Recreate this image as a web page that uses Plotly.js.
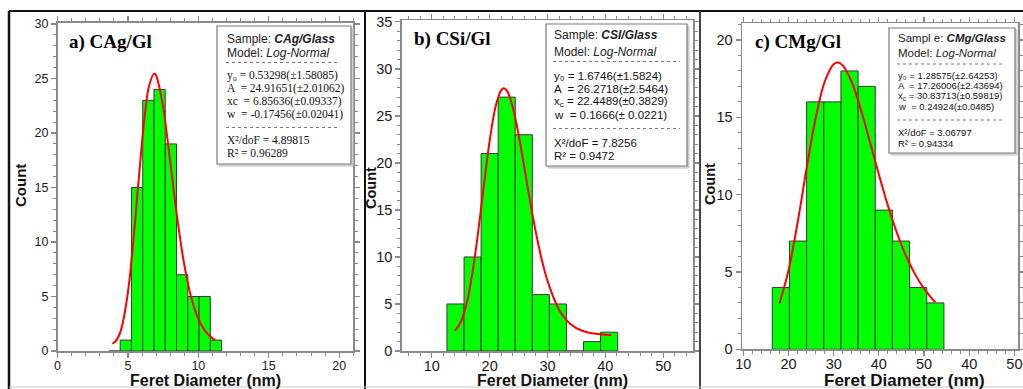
<!DOCTYPE html>
<html>
<head>
<meta charset="utf-8">
<script src="https://cdn.plot.ly/plotly-3.0.1.min.js"></script>
<style>html,body{margin:0;padding:0;background:#fff;}#chart{width:1023px;height:389px;}</style>
</head>
<body>
<div id="chart"></div>
<script>
// ---------- data ----------
// a) CAg/Gl
const agBins   = [4.05, 4.85, 5.65, 6.45, 7.25, 8.05, 8.85, 9.65, 10.45, 11.25];
const agCounts = [0, 1, 15, 23, 24, 19, 7, 5, 5, 1];
const agFitX   = [3.9, 4.2, 4.5, 5, 5.5, 5.75, 6, 6.25, 6.5, 6.86, 7, 7.5, 7.75, 8, 8.25, 8.5, 9, 9.5, 10, 10.5, 11, 11.2];
const agFitY   = [0.67, 1.02, 1.89, 5.39, 11.77, 15.53, 19.14, 22.19, 24.32, 25.45, 25.27, 22.37, 20.01, 17.40, 14.74, 12.21, 7.93, 4.88, 2.94, 1.80, 1.17, 1.01];
// b) CSi/Gl
const siBins   = [14.1, 17.05, 20.0, 22.95, 25.9, 28.85, 31.8, 34.75, 37.7, 40.65];
const siCounts = [5, 10, 21, 27, 23, 6, 5, 0, 1, 2];
const siFitX   = [14, 15, 16, 17, 18, 19, 20, 21, 22, 22.45, 23, 24, 25, 26, 27, 28, 29, 30, 32, 34, 36, 38, 40, 41];
const siFitY   = [2.15, 3.08, 5.00, 8.21, 12.58, 17.59, 22.33, 25.92, 27.75, 27.95, 27.67, 25.91, 23.0, 19.49, 15.89, 12.57, 9.74, 7.46, 4.40, 2.85, 2.15, 1.85, 1.74, 1.71];
// c) CMg/Gl
const mgBins   = [18.3, 22.1, 25.9, 29.7, 33.5, 37.3, 41.1, 44.9, 48.7, 52.5];
const mgCounts = [4, 7, 16, 16, 18, 17, 9, 7, 4, 3];
const mgFitX   = [18, 20, 22, 24, 26, 28, 30, 31, 32, 34, 36, 38, 40, 42, 44, 46, 48, 50, 52, 52.5];
const mgFitY   = [2.96, 5.11, 8.18, 11.69, 14.94, 17.30, 18.44, 18.55, 18.36, 17.27, 15.52, 13.43, 11.30, 9.29, 7.53, 6.05, 4.86, 3.92, 3.20, 3.05];
const mgTickVals = [10, 20, 30, 40, 50, 60, 70];
const mgTickText = ['10', '20', '30', '40', '50', '40', '50'];

// fit-box texts
const boxA = ['Sample: <b><i>CAg/Glass</i></b>', 'Model: <i>Log-Normal</i>',
  'y₀ = 0.53298(±1.58085)', 'A  = 24.91651(±2.01062)', 'xc  = 6.85636(±0.09337)', 'w  = -0.17456(±0.02041)',
  'X²/doF = 4.89815', 'R² = 0.96289'];
const boxB = ['Sample: <b><i>CSI/Glass</i></b>', 'Model: <i>Log-Normal</i>',
  'y₀ = 1.6746(±1.5824)', 'A  = 26.2718(±2.5464)', 'x<sub>c</sub> = 22.4489(±0.3829)', 'w  = 0.1666(± 0.0221)',
  'X²/doF = 7.8256', 'R² = 0.9472'];
const boxC = ['Sampl e: <b><i>CMg/Glass</i></b>', 'Model: <i>Log-Normal</i>',
  'y₀ = 1.28575(±2.64253)', 'A  = 17.26006(±2.43694)', 'x<sub>c</sub> = 30.83713(±0.59819)', 'w  = 0.24924(±0.0485)',
  'X²/doF = 3.06797', 'R² = 0.94334'];

// ---------- layout helpers ----------
const W = 1023, H = 389;
const px = x => x / W;
const py = y => 1 - y / H;

const GREEN = '#00ff00', BAR_LINE = '#3a3a3a', RED = '#ff0000';
const AX = '#8a8a8a';

function barTrace(x, y, w, xa, ya) {
  return {type: 'bar', x: x, y: y, width: w, xaxis: xa, yaxis: ya,
    marker: {color: GREEN, line: {color: BAR_LINE, width: 1}}, hoverinfo: 'x+y'};
}
function fitTrace(x, y, xa, ya) {
  return {type: 'scatter', mode: 'lines', x: x, y: y, xaxis: xa, yaxis: ya,
    line: {color: RED, width: 2, shape: 'spline', smoothing: 1}, hoverinfo: 'x+y'};
}

const data = [
  barTrace(agBins, agCounts, 0.8, 'x', 'y'),
  fitTrace(agFitX, agFitY, 'x', 'y'),
  barTrace(siBins, siCounts, 2.95, 'x2', 'y2'),
  fitTrace(siFitX, siFitY, 'x2', 'y2'),
  barTrace(mgBins, mgCounts, 3.8, 'x3', 'y3'),
  fitTrace(mgFitX, mgFitY, 'x3', 'y3')
];

function axis(opts, fs) {
  return Object.assign({
    showline: true, linecolor: AX, linewidth: 1.5, mirror: 'ticks',
    ticks: 'outside', ticklen: 5, tickwidth: 1.2, tickcolor: AX,
    showgrid: false, zeroline: false, fixedrange: true,
    tickfont: {family: 'Liberation Sans, Arial, sans-serif', size: fs, color: '#1a1a1a'}
  }, opts);
}

const layout = {
  width: W, height: H,
  margin: {l: 0, r: 0, t: 0, b: 0},
  paper_bgcolor: '#fff', plot_bgcolor: '#fff',
  showlegend: false, bargap: 0,
  xaxis:  axis({domain: [px(57.5), px(353.3)], range: [0, 21], anchor: 'y', dtick: 5, tick0: 0, ticklabelstandoff: -3,
           minor: {ticks: 'outside', dtick: 1, ticklen: 3, tickcolor: AX, tickwidth: 1}}, 12.5),
  yaxis:  axis({domain: [py(351), py(22.5)], range: [0, 30.14], anchor: 'x', dtick: 5,
           minor: {ticks: 'outside', dtick: 1, ticklen: 3, tickcolor: AX, tickwidth: 1}}, 12.5),
  xaxis2: axis({domain: [px(401.7), px(693.3)], range: [4.8, 55.2], anchor: 'y2', dtick: 10, tick0: 0, ticklabelstandoff: -4,
           minor: {ticks: 'outside', dtick: 2, ticklen: 3, tickcolor: AX, tickwidth: 1}}, 14.5),
  yaxis2: axis({domain: [py(351), py(20)], range: [0, 35.2], anchor: 'x2', dtick: 5,
           minor: {ticks: 'outside', dtick: 1, ticklen: 3, tickcolor: AX, tickwidth: 1}}, 14.5),
  xaxis3: axis({domain: [px(742), px(1018)], range: [9.7, 70.8], anchor: 'y3', ticklabelstandoff: -4,
           tickmode: 'array', tickvals: mgTickVals, ticktext: mgTickText,
           minor: {ticks: 'outside', dtick: 2, tick0: 0, ticklen: 3, tickcolor: AX, tickwidth: 1}}, 14.5),
  yaxis3: axis({domain: [py(349.3), py(23)], range: [0, 21.1], anchor: 'x3', dtick: 5,
           minor: {ticks: 'outside', dtick: 1, ticklen: 3, tickcolor: AX, tickwidth: 1}}, 14.5),
  shapes: [],
  annotations: []
};

// outer frame / separators
const frame = [
  [9, 11, 1023, 11, '#111', 2],
  [9, 11, 9, 389, '#111', 2.5],
  [365, 11, 365, 389, '#111', 2],
  [700, 11, 700, 389, '#444', 2],
  [9, 387, 1023, 387, '#c8c8c8', 1]
];
frame.forEach(f => layout.shapes.push({type: 'line', xref: 'paper', yref: 'paper', layer: 'above',
  x0: px(f[0]), y0: py(f[1]), x1: px(f[2]), y1: py(f[3]), line: {color: f[4], width: f[5]}}));

// axis titles
const SANSB = 'Liberation Sans, Arial, sans-serif';
[[20, 186, 15], [371, 188, 14.5], [710, 184, 14.5]].forEach(c => layout.annotations.push({
  xref: 'paper', yref: 'paper', x: px(c[0]), y: py(c[1]), text: '<b>Count</b>', showarrow: false,
  textangle: -90, xanchor: 'center', yanchor: 'middle', font: {family: SANSB, size: c[2], color: '#111'}}));
[[205, 16], [552, 16], [904, 17]].forEach(c => layout.annotations.push({
  xref: 'paper', yref: 'paper', x: px(c[0]), y: py(380.5), text: '<b>Feret Diameter (nm)</b>', showarrow: false,
  xanchor: 'center', yanchor: 'middle', borderpad: 0, font: {family: SANSB, size: c[1], color: '#111'}}));

// panel labels
[[66.5, 41.5, 'a) CAg/Gl'], [411.5, 38.5, 'b) CSi/Gl'], [753, 41.5, 'c) CMg/Gl']].forEach(c => layout.annotations.push({
  xref: 'paper', yref: 'paper', x: px(c[0]), y: py(c[1]), text: '<b>' + c[2] + '</b>', showarrow: false,
  xanchor: 'left', yanchor: 'middle', font: {family: 'Liberation Serif, Times New Roman, serif', size: 19, color: '#000'}}));

// fit boxes
function fitBox(b, lines, ys, xText, dashes, dashX, headFont, bodyFont, bodySize, headSize) {
  layout.shapes.push({type: 'rect', xref: 'paper', yref: 'paper', layer: 'above',
    x0: px(b[0] + 2), y0: py(b[3] + 2), x1: px(b[2] + 2), y1: py(b[1] + 2),
    line: {color: '#c4c4c4', width: 1}, fillcolor: '#d8d8d8'});
  layout.shapes.push({type: 'rect', xref: 'paper', yref: 'paper', layer: 'above',
    x0: px(b[0]), y0: py(b[3]), x1: px(b[2]), y1: py(b[1]),
    line: {color: '#7a7a7a', width: 1.2}, fillcolor: '#fff'});
  dashes.forEach(d => layout.shapes.push({type: 'line', xref: 'paper', yref: 'paper', layer: 'above',
    x0: px(dashX[0]), x1: px(dashX[1]), y0: py(d), y1: py(d), line: {color: '#777', width: 1, dash: 'dot'}}));
  lines.forEach((t, i) => layout.annotations.push({
    xref: 'paper', yref: 'paper', x: px(xText), y: py(ys[i]), text: t, showarrow: false,
    xanchor: 'left', yanchor: 'middle', borderpad: 0,
    font: i < 2 ? {family: headFont, size: headSize, color: '#222'} : {family: bodyFont, size: bodySize, color: '#111'}}));
}
fitBox([217, 26, 351, 164], boxA, [39.5, 53.5, 75, 88, 101, 114, 139.5, 153], 226, [62.5, 127.5], [226, 338],
  'Liberation Sans, Arial, sans-serif', 'Liberation Serif, Times New Roman, serif', 11.5, 12);
fitBox([546, 24, 687, 166], boxB, [35.5, 51.5, 76, 89, 102, 115, 142.5, 156], 553, [61.5, 128.5], [553, 680],
  'Liberation Sans, Arial, sans-serif', 'Liberation Sans, Arial, sans-serif', 11.5, 12);
fitBox([889, 28, 1015, 153], boxC, [37.5, 53.5, 75.5, 86, 96.5, 107, 132, 143], 897, [64, 120], [897, 1004],
  'Liberation Sans, Arial, sans-serif', 'Liberation Sans, Arial, sans-serif', 9.5, 11.5);

Plotly.newPlot('chart', data, layout, {displayModeBar: false, staticPlot: true});
</script>
</body>
</html>
